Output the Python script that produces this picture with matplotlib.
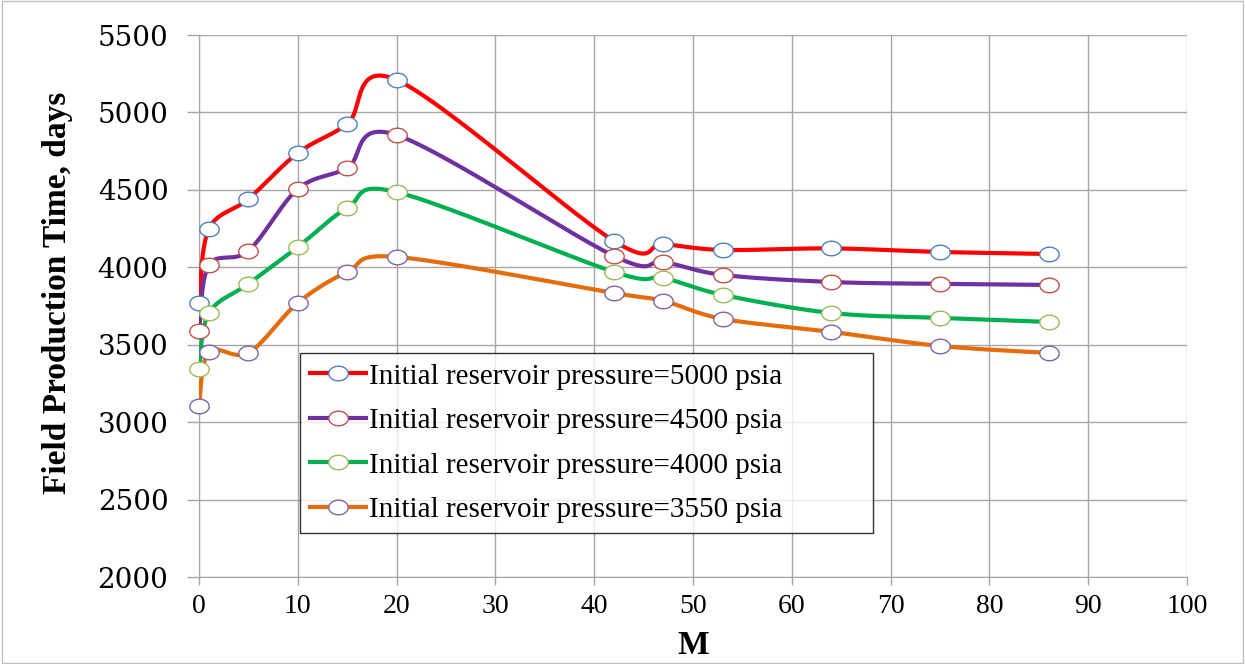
import numpy as np
import matplotlib
matplotlib.use("Agg")
import matplotlib.pyplot as plt
from matplotlib.path import Path
from matplotlib.patches import Rectangle

# ---- data ----
m_values = [0, 1, 5, 10, 15, 20, 42, 47, 53, 64, 75, 86]
p5000 = [3770, 4248, 4441, 4738, 4925, 5210, 4170, 4150, 4112, 4122, 4099, 4086]
p4500 = [3589, 4015, 4106, 4506, 4641, 4854, 4073, 4035, 3951, 3905, 3893, 3886]
p4000 = [3344, 3705, 3893, 4131, 4383, 4486, 3970, 3931, 3822, 3705, 3673, 3647]
p3550 = [3105, 3454, 3447, 3770, 3970, 4067, 3834, 3783, 3667, 3583, 3492, 3447]
labels = ["Initial reservoir pressure=5000 psia",
          "Initial reservoir pressure=4500 psia",
          "Initial reservoir pressure=4000 psia",
          "Initial reservoir pressure=3550 psia"]
line_colors = ["#FF0000", "#7030A0", "#00B050", "#E46C0A"]
marker_edges = ["#4F81BD", "#C0504D", "#9BBB59", "#8064A2"]
x_ticks = list(range(0, 101, 10))
y_ticks = list(range(2000, 5501, 500))

XMIN, XMAX, YMIN, YMAX = 0, 100, 2000, 5500

def smooth(xs, ys, sx, sy, n=30):
    """Excel-like Catmull-Rom smoothing, computed in scaled space."""
    px = np.asarray(xs, float) * sx
    py = np.asarray(ys, float) * sy
    P = np.column_stack([px, py])
    out = []
    for i in range(len(P) - 1):
        p0 = P[i - 1] if i > 0 else P[i]
        p1, p2 = P[i], P[i + 1]
        p3 = P[i + 2] if i + 2 < len(P) else P[i + 1]
        c1 = p1 + (p2 - p0) / 6.0
        c2 = p2 - (p3 - p1) / 6.0
        t = np.linspace(0, 1, n)[:, None]
        seg = ((1 - t) ** 3) * p1 + 3 * ((1 - t) ** 2) * t * c1 + 3 * (1 - t) * t ** 2 * c2 + t ** 3 * p2
        out.append(seg if i == 0 else seg[1:])
    S = np.vstack(out)
    return S[:, 0] / sx, S[:, 1] / sy

# ellipse marker (wider than tall)
th = np.linspace(0, 2 * np.pi, 41)
ell = Path(np.column_stack([1.0 * np.cos(th), 0.75 * np.sin(th)]), closed=True)

fig = plt.figure(figsize=(12.45, 6.64), dpi=100)
fig.add_artist(Rectangle((0.002, 0.002), 0.996, 0.996, transform=fig.transFigure,
                         fill=False, edgecolor="#BFBFBF", linewidth=1.0))
ax = fig.add_axes([199 / 1245, 1 - 577 / 664, (1187 - 199) / 1245, (577 - 35) / 664])
ax.set_xlim(XMIN, XMAX)
ax.set_ylim(YMIN, YMAX)

# scale factors to approx pixel space
sx = 988 / (XMAX - XMIN)
sy = 542 / (YMAX - YMIN)

series = [p5000, p4500, p4000, p3550]
handles = []
for ys, lc, me, lab in zip(series, line_colors, marker_edges, labels):
    xs_s, ys_s = smooth(m_values, ys, sx, sy)
    ax.plot(xs_s, ys_s, color=lc, linewidth=3.0, zorder=3, solid_capstyle="round")
    ax.plot(m_values, ys, linestyle="none", marker=ell, markersize=14,
            markerfacecolor="white", markeredgecolor=me, markeredgewidth=1.0,
            zorder=4, clip_on=False)
    h, = ax.plot([], [], color=lc, linewidth=3.0, marker=ell, markersize=14,
                 markerfacecolor="white", markeredgecolor=me, markeredgewidth=1.0)
    handles.append(h)

ax.set_xticks(x_ticks)
ax.set_yticks(y_ticks)
ax.grid(True, color="#A6A6A6", linewidth=1.0, zorder=0)
ax.set_axisbelow(True)
for s in ["top", "right"]:
    ax.spines[s].set_visible(False)
for s in ["left", "bottom"]:
    ax.spines[s].set_color("#A6A6A6")
ax.tick_params(axis="y", direction="out", length=9, color="#A6A6A6", width=1.0, pad=13)
ax.tick_params(axis="x", direction="out", length=6, color="#A6A6A6", width=1.0, pad=6)
for t in ax.get_yticklabels():
    t.set_fontfamily("DejaVu Serif")
    t.set_fontsize(20)
for t in ax.get_xticklabels():
    t.set_fontfamily("Liberation Serif")
    t.set_fontsize(20)

ax.set_xlabel("M", fontfamily="Liberation Serif", fontweight="bold", fontsize=24, labelpad=8)
ax.set_ylabel("Field Production Time, days", fontfamily="Liberation Serif",
              fontweight="bold", fontsize=24)
ax.yaxis.set_label_coords((73 - 199) / 988, (577 - 293) / 542)

x0 = (300 - 199) / 988
y1 = (577 - 353) / 542
w = (873 - 300) / 988
h = (559 - 353) / 542
leg = ax.legend(handles, labels, loc="upper left",
                bbox_to_anchor=(x0, y1 - h, w, h), mode="expand",
                prop={"family": "Liberation Serif", "size": 21},
                frameon=True, fancybox=False, edgecolor="black",
                handlelength=1.9, handletextpad=0.1, labelspacing=0.62,
                borderpad=0.35, borderaxespad=0)
leg.get_frame().set_linewidth(1.0)
leg.set_zorder(5)

fig.savefig("out.png", dpi=100)
